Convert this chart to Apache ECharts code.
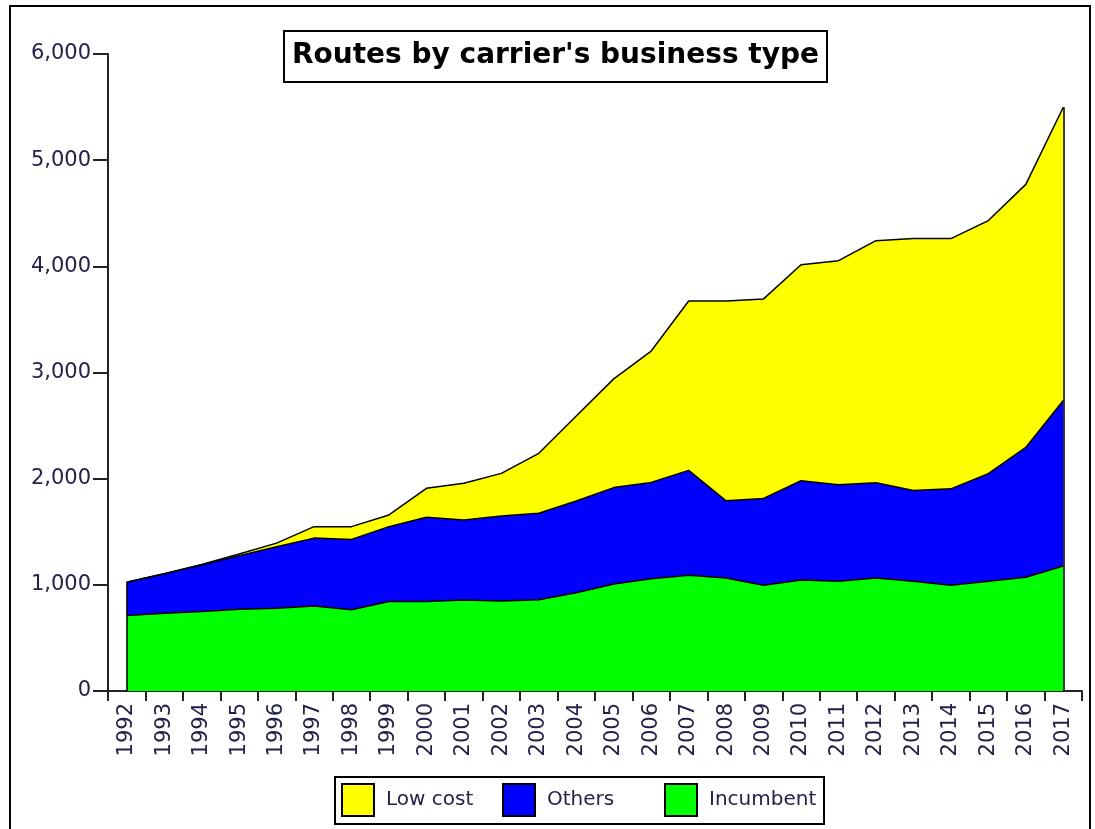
<!DOCTYPE html>
<html>
<head>
<meta charset="utf-8">
<script src="https://cdn.jsdelivr.net/npm/echarts@6/dist/echarts.min.js"></script>
<style>
  html, body { margin: 0; padding: 0; background: #fff; }
  #myChart { width: 1095px; height: 829px; }
</style>
</head>
<body>
<div id="myChart"></div>
<script>
// years on the x axis
var years = ["1992","1993","1994","1995","1996","1997","1998","1999","2000","2001","2002","2003","2004",
  "2005","2006","2007","2008","2009","2010","2011","2012","2013","2014","2015","2016","2017"];
// routes per business type
var incumbent = [710,732,748,770,780,800,765,842,842,857,848,860,925,1008,1057,1091,1064,997,1046,1034,1064,1034,997,1034,1072,1177];
var others = [315,373,438,505,578,640,663,706,794,753,800,815,865,908,908,987,727,816,934,908,897,855,907,1014,1222,1559];
var lowCost = [0,0,5,15,35,108,120,110,273,346,402,564,800,1024,1237,1596,1883,1880,2035,2111,2281,2372,2357,2383,2478,2762];
var yTicks = [0,1000,2000,3000,4000,5000,6000];

var font = "DejaVu Sans";
var labelColor = "#22224a";

var last = years.length - 1;
var totalFirst = incumbent[0] + others[0] + lowCost[0];
var totalLast = incumbent[last] + others[last] + lowCost[last];

var myChart = echarts.init(document.getElementById("myChart"));

function oneLegend(name, color, left) {
  return {
    left: left,
    top: 783,
    padding: 0,
    itemWidth: 32,
    itemHeight: 32,
    selectedMode: false,
    textStyle: { fontFamily: font, fontSize: 20, color: labelColor, padding: [0, 0, 0, 7] },
    data: [{ name: name, icon: "rect", itemStyle: { color: color, borderColor: "#000", borderWidth: 2 } }]
  };
}

var option = {
  animation: false,
  backgroundColor: "#fff",
  title: {
    text: "Routes by carrier's business type",
    left: 284,
    top: 31,
    padding: [11, 8, 12, 8],
    borderColor: "#000",
    borderWidth: 2,
    backgroundColor: "#fff",
    textStyle: { fontFamily: font, fontSize: 28, fontWeight: "bold", color: "#000" }
  },
  graphic: [
    { type: "rect", shape: { x: 10, y: 6, width: 1080, height: 840 }, style: { fill: "none", stroke: "#000", lineWidth: 2 }, z: -10 },
    { type: "rect", shape: { x: 335, y: 777, width: 489, height: 47 }, style: { fill: "#fff", stroke: "#000", lineWidth: 2 }, z: 0 }
  ],
  legend: [
    oneLegend("Low cost", "#ffff00", 341),
    oneLegend("Others", "#0000ff", 502),
    oneLegend("Incumbent", "#00ff00", 664)
  ],
  grid: { left: 108, right: 13, top: 54, bottom: 138 },
  xAxis: {
    type: "category",
    boundaryGap: true,
    data: years,
    axisLine: { show: true, lineStyle: { color: "#222", width: 2 } },
    axisTick: { show: true, interval: 0, length: 10, lineStyle: { color: "#222", width: 2 } },
    axisLabel: { interval: 0, rotate: 90, margin: 12, fontFamily: font, fontSize: 21, color: labelColor },
    splitLine: { show: false }
  },
  yAxis: {
    type: "value",
    min: yTicks[0],
    max: yTicks[yTicks.length - 1],
    interval: 1000,
    axisLine: { show: true, lineStyle: { color: "#222", width: 2 } },
    axisTick: { show: true, length: 15, lineStyle: { color: "#222", width: 2 } },
    axisLabel: {
      margin: 17, fontFamily: font, fontSize: 21, color: labelColor,
      formatter: function (v) { return v.toLocaleString("en-US"); }
    },
    splitLine: { show: false }
  },
  series: [
    {
      name: "Incumbent",
      type: "line",
      stack: "total",
      symbol: "none",
      data: incumbent,
      itemStyle: { color: "#00ff00" },
      lineStyle: { color: "#000", width: 1.5 },
      areaStyle: { color: "#00ff00", opacity: 1 },
      markLine: {
        silent: true,
        symbol: "none",
        label: { show: false },
        lineStyle: { color: "#000", width: 1.5, type: "solid" },
        data: [
          [{ coord: [years[0], 0] }, { coord: [years[0], totalFirst] }],
          [{ coord: [years[last], 0] }, { coord: [years[last], totalLast] }]
        ]
      }
    },
    {
      name: "Others",
      type: "line",
      stack: "total",
      symbol: "none",
      data: others,
      itemStyle: { color: "#0000ff" },
      lineStyle: { color: "#000", width: 1.5 },
      areaStyle: { color: "#0000ff", opacity: 1 }
    },
    {
      name: "Low cost",
      type: "line",
      stack: "total",
      symbol: "none",
      data: lowCost,
      itemStyle: { color: "#ffff00" },
      lineStyle: { color: "#000", width: 1.5 },
      areaStyle: { color: "#ffff00", opacity: 1 }
    }
  ]
};

myChart.setOption(option);
</script>
</body>
</html>
